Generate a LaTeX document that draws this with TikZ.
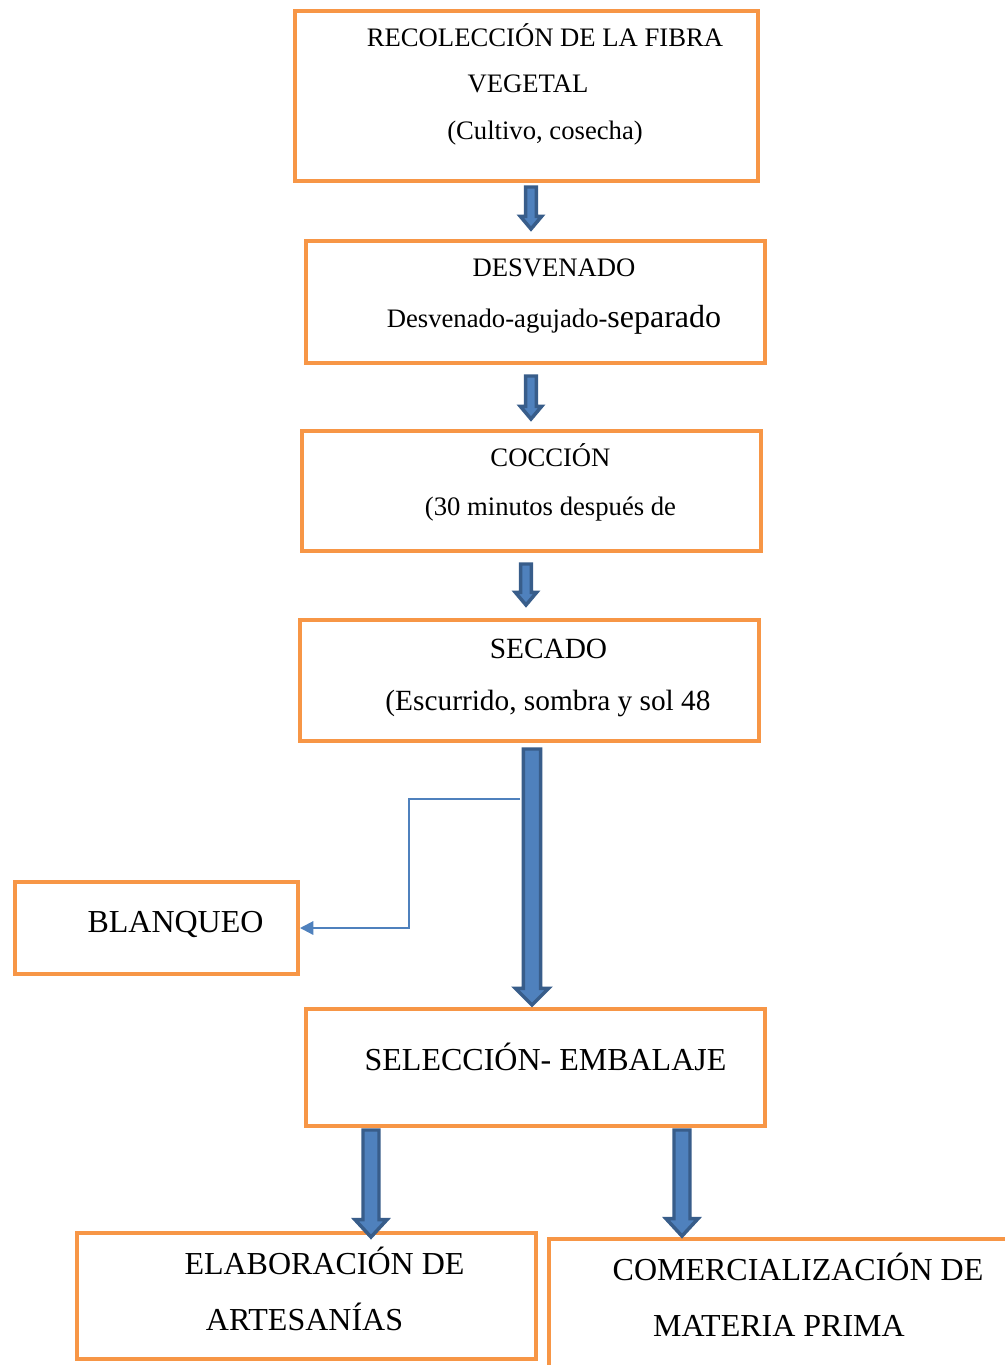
\documentclass[tikz,border=0pt]{standalone}
\usepackage{fontspec}
\setmainfont{Liberation Serif}
\usetikzlibrary{calc}
\usetikzlibrary{arrows.meta}
\definecolor{boxorange}{HTML}{F79646}
\definecolor{arrowfill}{HTML}{4F81BD}
\definecolor{arrowline}{HTML}{385D8A}
\tikzset{box/.style={draw=boxorange,line width=3pt,inner sep=0pt},
  txt/.style={anchor=base,inner sep=0pt,font=\fontsize{20}{24}\selectfont},
  txtmid/.style={anchor=base,inner sep=0pt,font=\fontsize{22}{26}\selectfont},
  txtbig/.style={anchor=base,inner sep=0pt,font=\fontsize{24}{28}\selectfont},
  blkarrow/.style={fill=arrowfill,draw=arrowline,line width=2.6pt,line join=miter},
  link/.style={draw=arrowfill,line width=1.6pt,-{Triangle[length=10pt,width=10pt]}}}
\newcommand{\blkarr}[5]{\draw[blkarrow] let \p1=(#1), \p2=(#2) in
  (\x1-#3,\y1) -- (\x1+#3,\y1) -- (\x1+#3,\y2+#5) -- (\x1+#4,\y2+#5) -- (\x1,\y2)
  -- (\x1-#4,\y2+#5) -- (\x1-#3,\y2+#5) -- cycle;}

\begin{document}
\begin{tikzpicture}[x=0.75pt,y=-0.75pt]
\path[use as bounding box,fill=white] (0,0) rectangle (1005,1365);

\node[box,minimum width=347.25pt,minimum height=127.5pt] (rec) at (526.5,96) {};
\node[box,minimum width=344.25pt,minimum height=91.5pt] (des) at (535.5,302) {};
\node[box,minimum width=344.25pt,minimum height=90pt] (coc) at (531.5,491) {};
\node[box,minimum width=344.25pt,minimum height=90.75pt] (sec) at (529.5,680.5) {};
\node[box,minimum width=212.25pt,minimum height=69pt] (bla) at (156.5,928) {};
\node[box,minimum width=344.25pt,minimum height=87.75pt] (sel) at (535.5,1067.5) {};
\node[box,minimum width=344.25pt,minimum height=94.5pt] (ela) at (306.5,1296) {};
\node[box,minimum width=352.5pt,minimum height=105pt] (com) at (784,1309) {};

\node[txt] (rec1) at (545,46) {RECOLECCIÓN DE LA FIBRA};
\node[txt] (rec2) at (528,92) {VEGETAL};
\node[txt] (rec3) at (545,139) {(Cultivo, cosecha)};
\node[txt] (des1) at (554,276) {DESVENADO};
\node[txt] (des2) at (554,327) {Desvenado-agujado-{\fontsize{24}{28}\selectfont separado}};
\node[txt] (coc1) at (550.5,466) {COCCIÓN};
\node[txt] (coc2) at (550.5,515) {(30 minutos después de};
\node[txtmid] (sec1) at (548.5,658) {SECADO};
\node[txtmid] (sec2) at (548,710) {(Escurrido, sombra y sol 48};
\node[txtbig] (bla1) at (175.5,932) {BLANQUEO};
\node[txtbig] (sel1) at (545.5,1070) {SELECCIÓN- EMBALAJE};
\node[txtbig] (ela1) at (324.5,1274) {ELABORACIÓN DE};
\node[txtbig] (ela2) at (304.5,1330) {ARTESANÍAS};
\node[txtbig] (com1) at (798,1280) {COMERCIALIZACIÓN DE};
\node[txtbig] (com2) at (779,1336) {MATERIA PRIMA};

\coordinate (a1) at (531,187);
\coordinate (a1') at (531,229);
\coordinate (a2) at (531,376);
\coordinate (a2') at (531,419);
\coordinate (a3) at (526,564);
\coordinate (a3') at (526,605);
\coordinate (a4) at (532,749);
\coordinate (a4') at (532,1005);
\coordinate (a5) at (371,1130);
\coordinate (a5') at (371,1237);
\coordinate (a6) at (682,1130);
\coordinate (a6') at (682,1236);
\coordinate (tap) at (520,799);

\draw[link] (tap) -- (409,799) |- (bla.east);
\blkarr{a1}{a1'}{4pt}{8pt}{9.5pt}
\blkarr{a2}{a2'}{4pt}{8pt}{9.5pt}
\blkarr{a3}{a3'}{4pt}{8pt}{9.5pt}
\blkarr{a4}{a4'}{6.4pt}{12.5pt}{12.5pt}
\blkarr{a5}{a5'}{6pt}{12pt}{13pt}
\blkarr{a6}{a6'}{6pt}{12pt}{13pt}
\end{tikzpicture}
\end{document}
